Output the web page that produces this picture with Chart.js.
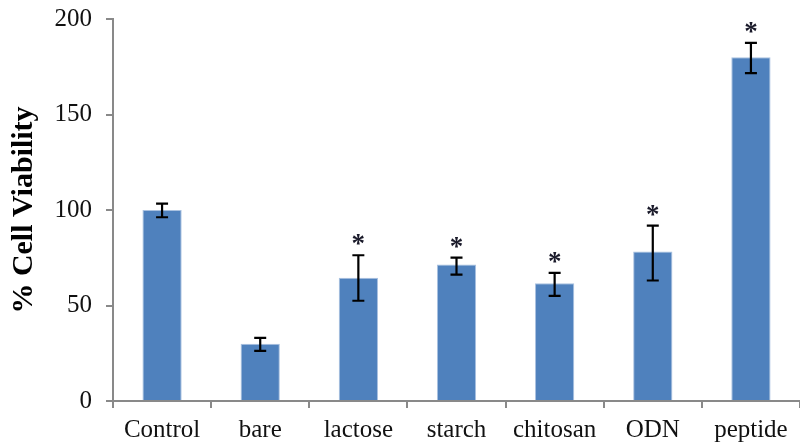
<!DOCTYPE html>
<html>
<head>
<meta charset="utf-8">
<script src="https://cdn.jsdelivr.net/npm/chart.js@4/dist/chart.umd.min.js"></script>
<style>
html,body{margin:0;padding:0;background:#fff;}
#wrap{width:800px;height:446px;position:relative;}
</style>
</head>
<body>
<div id="wrap"><canvas id="c" width="800" height="446"></canvas></div>
<script>
const categories = ["Control", "bare", "lactose", "starch", "chitosan", "ODN", "peptide"];
const viability = [100, 30, 64.5, 71.5, 61.6, 78.3, 180];
const errUpper = [3.3, 3.0, 11.8, 3.6, 5.5, 13.5, 7.5];
const errLower = [3.8, 3.8, 12.0, 5.3, 6.6, 15.2, 8.3];
const marks = ["", "", "*", "*", "*", "*", "*"];
const yTicks = [0, 50, 100, 150, 200];

const errorBarPlugin = {
  id: 'errorBars',
  afterDatasetsDraw(chart) {
    const ctx = chart.ctx;
    const meta = chart.getDatasetMeta(0);
    const y = chart.scales.y;
    ctx.save();
    ctx.strokeStyle = '#000';
    ctx.lineWidth = 2.2;
    meta.data.forEach((bar, i) => {
      const v = viability[i];
      const top = y.getPixelForValue(v + errUpper[i]);
      const bot = y.getPixelForValue(v - errLower[i]);
      const x = bar.x;
      const cap = 6;
      ctx.beginPath();
      ctx.moveTo(x, top); ctx.lineTo(x, bot);
      ctx.moveTo(x - cap, top); ctx.lineTo(x + cap, top);
      ctx.moveTo(x - cap, bot); ctx.lineTo(x + cap, bot);
      ctx.stroke();
      if (marks[i]) {
        ctx.fillStyle = '#1a1a2a';
        ctx.font = 'bold 27px "Liberation Serif", "Times New Roman", serif';
        ctx.textAlign = 'center';
        ctx.textBaseline = 'alphabetic';
        ctx.fillText(marks[i], x, top - 16 + 13);
      }
    });
    ctx.restore();
  }
};

new Chart(document.getElementById('c'), {
  type: 'bar',
  data: {
    labels: categories,
    datasets: [{
      data: viability,
      backgroundColor: '#4F81BD',
      borderColor: '#A9C1E0',
      borderWidth: 1,
      barPercentage: 0.4,
      categoryPercentage: 1.0
    }]
  },
  options: {
    responsive: false,
    animation: false,
    devicePixelRatio: 1,
    layout: { padding: { top: 19, right: 0, left: 0, bottom: 0 } },
    plugins: { legend: { display: false }, tooltip: { enabled: false } },
    scales: {
      x: {
        offset: true,
        grid: { display: true, drawOnChartArea: false, drawTicks: true, tickLength: 7, color: '#898989', lineWidth: 2, offset: true },
        border: { display: true, color: '#898989', width: 2 },
        ticks: { color: '#111', font: { family: '"Liberation Serif", "Times New Roman", serif', size: 25 }, padding: 7, maxRotation: 0 },
        afterFit(scale) { scale.height = 45; scale.paddingLeft = 0; scale.paddingRight = 0; }
      },
      y: {
        min: 0, max: 200,
        afterBuildTicks(scale) { scale.ticks = yTicks.map(v => ({ value: v })); },
        grid: { display: true, drawOnChartArea: false, drawTicks: true, tickLength: 7, color: '#898989', lineWidth: 2 },
        border: { display: true, color: '#898989', width: 2 },
        ticks: { color: '#111', font: { family: '"Liberation Serif", "Times New Roman", serif', size: 25 }, padding: 14 },
        title: { display: true, text: '% Cell Viability', color: '#000', font: { family: '"Liberation Serif", "Times New Roman", serif', size: 30, weight: 'bold' }, padding: { top: 6, bottom: 14 } },
        afterFit(scale) { scale.width = 113; scale.paddingTop = 0; scale.paddingBottom = 0; }
      }
    }
  },
  plugins: [errorBarPlugin]
});
</script>
</body>
</html>
